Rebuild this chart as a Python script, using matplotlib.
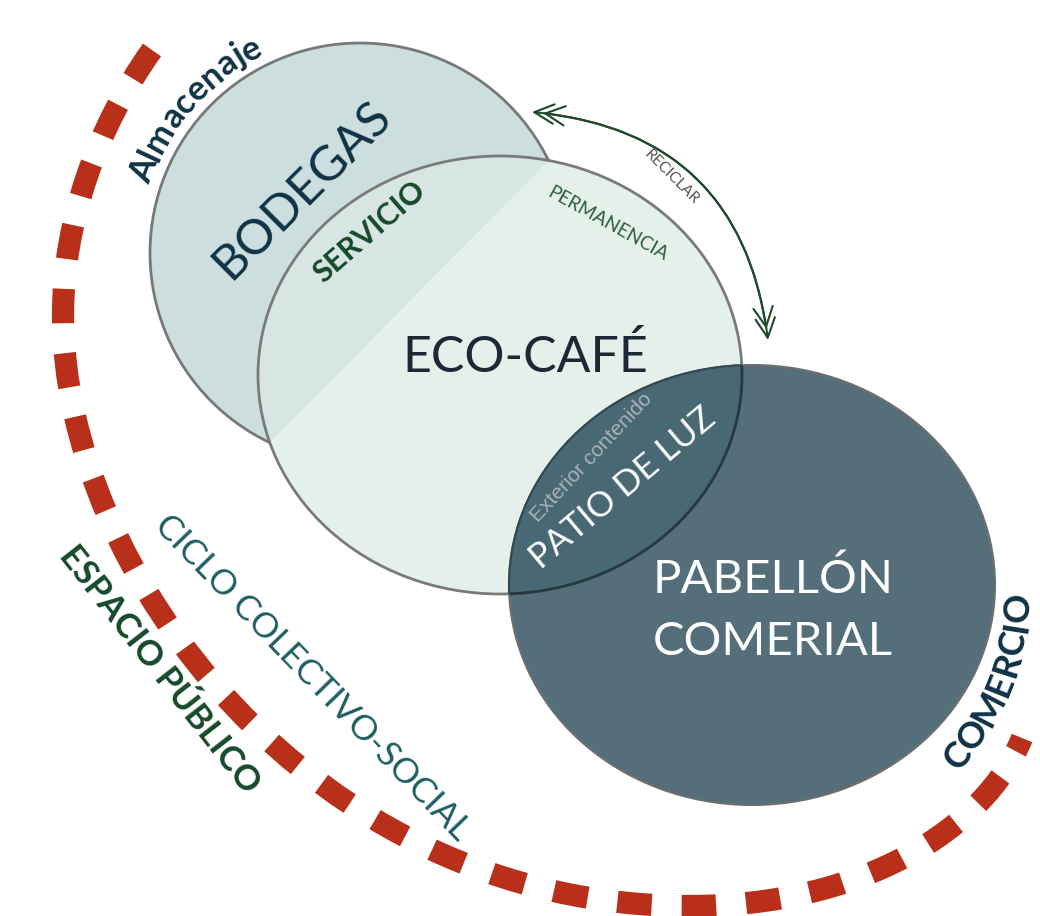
import matplotlib
matplotlib.use("Agg")
import matplotlib.pyplot as plt
import numpy as np
from matplotlib.patches import Circle, Ellipse, Polygon, PathPatch, FancyArrowPatch
from matplotlib.path import Path
from matplotlib.textpath import TextToPath
from matplotlib.font_manager import FontProperties

# labels
zone_labels = ["BODEGAS", "ECO-CAFÉ", "PABELLÓN\nCOMERIAL"]
role_labels = ["SERVICIO", "PERMANENCIA", "PATIO DE LUZ"]
outer_labels = ["Almacenaje", "ESPACIO PÚBLICO", "COMERCIO"]
cycle_label = "CICLO COLECTIVO-SOCIAL"
sub_label = "Exterior contenido"
arrow_label = "RECICLAR"

# geometry (pixel space, y down)
bod_c, bod_r = (360, 253), 210
eco_c, eco_w, eco_h = (500, 375), 484, 438
pab_c, pab_w, pab_h = (752, 585), 486, 440

NAVY = "#0f3345"
DGREEN = "#154a2a"
RED = "#b83019"
FAMILY = ['Lato', 'DejaVu Sans']

plt.rcParams['font.family'] = FAMILY

fig = plt.figure(figsize=(10.4, 9.16), dpi=100)
ax = fig.add_axes([0, 0, 1, 1])
ax.set_xlim(0, 1040)
ax.set_ylim(916, 0)
ax.axis('off')

# where the eco ellipse crosses the bodegas circle -> chord
t = np.linspace(0, 2 * np.pi, 3600, endpoint=False)
ex = eco_c[0] + eco_w / 2 * np.cos(t)
ey = eco_c[1] + eco_h / 2 * np.sin(t)
inside = np.hypot(ex - bod_c[0], ey - bod_c[1]) < bod_r
flips = np.where(inside != np.roll(inside, 1))[0]
i1 = np.array([ex[flips[0]], ey[flips[0]]])
i2 = np.array([ex[flips[1]], ey[flips[1]]])
along = (i2 - i1) / np.linalg.norm(i2 - i1)
nrm = np.array([-along[1], along[0]])
if np.dot(np.array(bod_c) - i1, nrm) < 0:
    nrm = -nrm
big = 3000
a0, a1 = i1 - along * big, i2 + along * big
left_half = Polygon([a0, a1, a1 + nrm * big, a0 + nrm * big], closed=True, transform=ax.transData)
right_half = Polygon([a0, a1, a1 - nrm * big, a0 - nrm * big], closed=True, transform=ax.transData)

# bodegas
ax.add_patch(Circle(bod_c, bod_r, facecolor="#cddede", edgecolor="#787878", lw=2, zorder=1))
# eco cafe
eco_r_fill = Ellipse(eco_c, eco_w, eco_h, facecolor="#e4f1eb", edgecolor="none", zorder=2)
ax.add_patch(eco_r_fill)
eco_r_fill.set_clip_path(right_half)
eco_l_fill = Ellipse(eco_c, eco_w, eco_h, facecolor="#e4f1eb", edgecolor="none", alpha=0.45, zorder=2)
ax.add_patch(eco_l_fill)
eco_l_fill.set_clip_path(left_half)
ax.add_patch(Ellipse(eco_c, eco_w, eco_h, facecolor="none", edgecolor="#7a7a7a", lw=2, zorder=3))

# pabellon
ax.add_patch(Ellipse(pab_c, pab_w, pab_h, facecolor="#546e7a", edgecolor="#6e6e6e", lw=1.5, zorder=4))
pab_clip = Ellipse(pab_c, pab_w, pab_h, transform=ax.transData)
lens = Ellipse(eco_c, eco_w, eco_h, facecolor="#486873", edgecolor="#26393f", lw=2, zorder=5)
ax.add_patch(lens)
lens.set_clip_path(pab_clip)
pab_edge = Ellipse(pab_c, pab_w, pab_h, facecolor="none", edgecolor="#33474f", lw=1.5, zorder=5)
ax.add_patch(pab_edge)
eco_clip = Ellipse(eco_c, eco_w, eco_h, transform=ax.transData)
pab_edge.set_clip_path(eco_clip)

# dashed outer arc
verts = [(152, 50), (97, 127), (63, 222), (63, 315),
         (63, 570), (310, 906), (690, 906),
         (860, 906), (985, 830), (1022, 738)]
codes = [Path.MOVETO] + [Path.CURVE4] * 9
ax.add_patch(PathPatch(Path(verts, codes), facecolor="none", edgecolor=RED,
                       lw=16, linestyle=(0, (1.55, 1.35)), capstyle='butt', zorder=0))

# reciclar arrow
for s in (0, 8):
    ax.add_patch(FancyArrowPatch((532, 112), (768, 340), connectionstyle="arc3,rad=-0.4",
                                 arrowstyle="<->,head_length=0.7,head_width=0.35", mutation_scale=20,
                                 color="#1e4a2c", lw=1.5, shrinkA=s, shrinkB=s, zorder=6))

def label(x, y, s, size, rot, color, weight='normal', **kw):
    ax.text(x, y, s, fontsize=size, rotation=rot, color=color, fontweight=weight,
            ha='center', va='center', rotation_mode='anchor', zorder=10, **kw)

ttp = TextToPath()

def arc_label(s, center, radius, mid_deg, size, color, weight='normal', clockwise=True):
    # lay characters one by one on a circle (angles in image coords, y down)
    prop = FontProperties(family=FAMILY, weight=weight, size=size)
    px = 100 / 72
    widths = [ttp.get_text_width_height_descent(s[:k], prop, ismath=False)[0] * px if k else 0.0
              for k in range(len(s) + 1)]
    total = widths[-1]
    sign = 1 if clockwise else -1
    for k, ch in enumerate(s):
        off = (widths[k] + widths[k + 1]) / 2 - total / 2
        phi = np.radians(mid_deg) + sign * off / radius
        x = center[0] + radius * np.cos(phi)
        y = center[1] + radius * np.sin(phi)
        if clockwise:
            rot = np.degrees(np.arctan2(-np.cos(phi), -np.sin(phi)))
        else:
            rot = np.degrees(np.arctan2(np.cos(phi), np.sin(phi)))
        ax.text(x, y, ch, fontproperties=prop, color=color, rotation=rot,
                ha='center', va='baseline', rotation_mode='anchor', zorder=10)

arc_label(outer_labels[0], bod_c, 221, -139, 25, NAVY, 'bold', clockwise=True)
label(302, 190, zone_labels[0], 35, 45, NAVY)
label(370, 232, role_labels[0], 22, 41, DGREEN, 'bold')
label(608, 224, role_labels[1], 13.5, -29, "#2e5e3a")
label(671, 177, arrow_label, 11, -45, "#555555")
label(525, 358, zone_labels[1], 36, 0, "#1c2833")
label(591, 458, sub_label, 15, 47, "#a9b3b7", family='Liberation Sans')
label(623, 488, role_labels[2], 25, 40, "white")
label(773, 610, zone_labels[2], 34, 0, "white", linespacing=1.6)
label(312, 678, cycle_label, 25, -46, "#1d5e62")
label(160, 670, outer_labels[1], 25, -52, DGREEN, 'bold')
arc_label(outer_labels[2], pab_c, 278, 22, 26, NAVY, 'bold', clockwise=False)

fig.savefig("out.png", dpi=100)
